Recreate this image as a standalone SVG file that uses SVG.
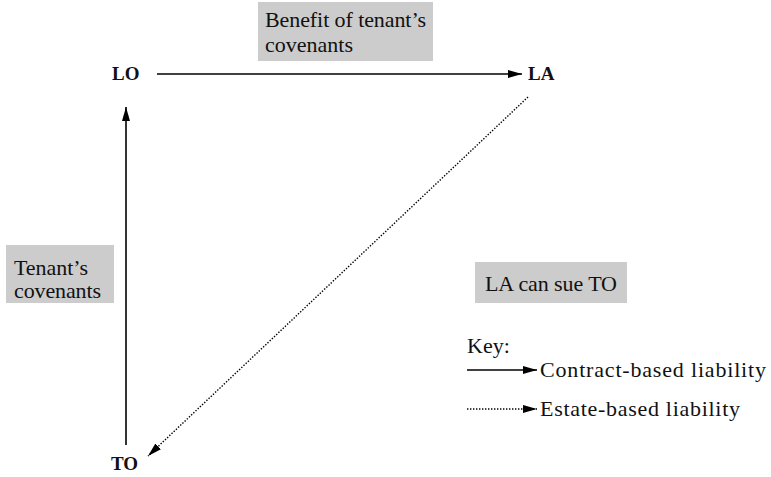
<svg xmlns="http://www.w3.org/2000/svg" width="771" height="477" viewBox="0 0 771 477">
  <style>
    text { font-family: "Liberation Serif", "DejaVu Serif", serif; font-size: 22px; fill: #111; }
    .node { font-weight: bold; font-size: 19px; }
    .box { fill: #cccccc; }
    .solid { stroke: #000; stroke-width: 1.6; fill: none; }
    .dotted { stroke: #000; stroke-width: 1.4; fill: none; stroke-dasharray: 1.4 1.6; }
  </style>
  <defs>
    <marker id="arrow" viewBox="0 0 14 8" refX="14" refY="4" markerWidth="14" markerHeight="8" markerUnits="userSpaceOnUse" orient="auto">
      <path d="M0,0 L14,4 L0,8 Z" fill="#000"/>
    </marker>
  </defs>
  <rect width="771" height="477" fill="#fff"/>

  <!-- shaded labels -->
  <g id="label-benefit">
    <rect class="box" x="258" y="2" width="175" height="59"/>
    <text x="265" y="27" textLength="161">Benefit of tenant’s</text>
    <text x="265" y="52" textLength="88">covenants</text>
  </g>
  <g id="label-tenant">
    <rect class="box" x="6" y="245" width="108" height="58"/>
    <text x="14" y="275" textLength="74">Tenant’s</text>
    <text x="14" y="298" textLength="87">covenants</text>
  </g>
  <g id="label-sue">
    <rect class="box" x="475" y="262" width="152" height="41"/>
    <text x="485" y="291" textLength="132">LA can sue TO</text>
  </g>

  <!-- parties -->
  <g id="node-lo"><text class="node" x="112" y="80">LO</text></g>
  <g id="node-la"><text class="node" x="528" y="80">LA</text></g>
  <g id="node-to"><text class="node" x="111" y="470">TO</text></g>

  <!-- connectors -->
  <g id="connectors">
    <line class="solid" x1="157" y1="74" x2="522" y2="74" marker-end="url(#arrow)"/>
    <line class="solid" x1="126" y1="445" x2="126" y2="107" marker-end="url(#arrow)"/>
    <line class="dotted" x1="528" y1="97" x2="148" y2="456" marker-end="url(#arrow)"/>
  </g>

  <!-- key -->
  <g id="key">
    <text x="467" y="353">Key:</text>
    <line class="solid" x1="467" y1="370" x2="537" y2="370" marker-end="url(#arrow)"/>
    <text x="540" y="377" textLength="226">Contract-based liability</text>
    <line class="dotted" x1="467" y1="409" x2="537" y2="409" marker-end="url(#arrow)"/>
    <text x="540" y="416" textLength="200">Estate-based liability</text>
  </g>
</svg>
